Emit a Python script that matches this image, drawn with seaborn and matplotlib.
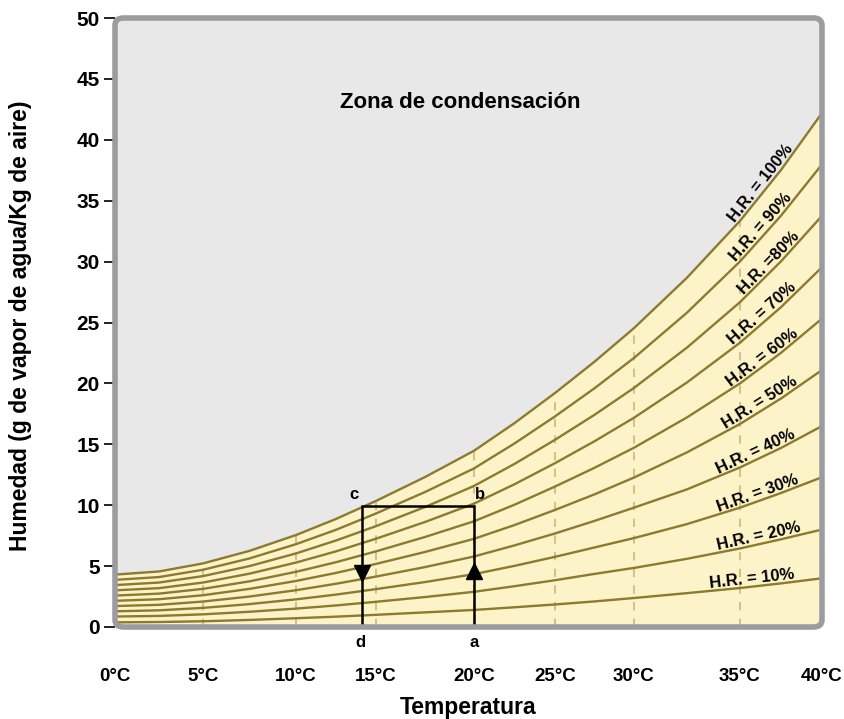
import numpy as np
import pandas as pd
import matplotlib
matplotlib.use("Agg")
import matplotlib.pyplot as plt
import seaborn as sns
from matplotlib.patches import FancyBboxPatch

# axis ticks (°C) and where each tick sits on the drawn axis (px)
tick_t = [0, 5, 10, 15, 20, 25, 30, 35, 40]
tick_px = [115, 203, 296, 376, 474, 555, 634, 740, 822]
temp_labels = ["0°C", "5°C", "10°C", "15°C", "20°C", "25°C", "30°C", "35°C", "40°C"]

# temperatures at which the curves were read
temps = [0, 2.5, 5, 7.5, 10, 12.5, 15, 17.5, 20, 22.5, 25, 27.5, 30, 32.5, 35, 37.5, 40]

# humidity (g vapour / kg air) per relative-humidity curve
hr_100 = [4.30, 4.56, 5.22, 6.25, 7.55, 8.87, 10.35, 12.31, 14.47, 16.74, 19.21, 21.78, 24.54, 28.68, 33.34, 37.52, 42.20]
hr_90 = [3.87, 4.10, 4.70, 5.63, 6.80, 7.98, 9.32, 11.08, 13.02, 15.07, 17.29, 19.60, 22.09, 25.81, 30.01, 33.77, 37.98]
hr_80 = [3.44, 3.65, 4.18, 5.00, 6.04, 7.10, 8.28, 9.85, 11.58, 13.39, 15.37, 17.42, 19.63, 22.94, 26.67, 30.02, 33.76]
hr_70 = [3.01, 3.19, 3.65, 4.38, 5.29, 6.21, 7.25, 8.62, 10.13, 11.72, 13.45, 15.25, 17.18, 20.08, 23.34, 26.26, 29.54]
hr_60 = [2.58, 2.74, 3.13, 3.75, 4.53, 5.32, 6.21, 7.39, 8.68, 10.04, 11.53, 13.07, 14.72, 17.21, 20.00, 22.51, 25.32]
hr_50 = [2.15, 2.28, 2.61, 3.13, 3.78, 4.44, 5.18, 6.16, 7.24, 8.37, 9.61, 10.89, 12.27, 14.34, 16.67, 18.76, 21.10]
hr_40 = [1.72, 1.82, 2.09, 2.50, 3.02, 3.55, 4.14, 4.92, 5.79, 6.70, 7.68, 8.71, 9.80, 11.30, 13.10, 14.70, 16.50]
hr_30 = [1.29, 1.37, 1.57, 1.88, 2.27, 2.66, 3.11, 3.69, 4.34, 5.02, 5.76, 6.53, 7.30, 8.45, 9.80, 11.00, 12.30]
hr_20 = [0.86, 0.91, 1.04, 1.25, 1.51, 1.77, 2.07, 2.46, 2.89, 3.35, 3.84, 4.36, 4.85, 5.60, 6.45, 7.20, 8.00]
hr_10 = [0.38, 0.41, 0.47, 0.58, 0.72, 0.85, 1.00, 1.20, 1.40, 1.62, 1.85, 2.10, 2.38, 2.78, 3.20, 3.58, 4.00]
hr_levels = [100, 90, 80, 70, 60, 50, 40, 30, 20, 10]
hr_curves = [hr_100, hr_90, hr_80, hr_70, hr_60, hr_50, hr_40, hr_30, hr_20, hr_10]
hr_texts = ["H.R. = 100%", "H.R. = 90%", "H.R. =80%", "H.R. = 70%", "H.R. = 60%",
            "H.R. = 50%", "H.R. = 40%", "H.R. = 30%", "H.R. = 20%", "H.R. = 10%"]
label_px = [767, 766, 774, 767, 767, 764, 759, 760, 760, 753]

# cooling path a -> b -> c -> d
path_t = [20, 20, 14.1, 14.1]
path_h = [0, 9.9, 9.9, 0]

dashed_t = [5, 10, 15, 20, 25, 30, 35]

YELLOW = "#fdf3c9"
GREY_BG = "#e8e8e8"
CURVE = "#8c7a2e"
DASH = "#d2c38c"
FRAME = "#9c9ca0"

sns.set_style("white")
plt.rcParams["font.family"] = ["Liberation Sans", "DejaVu Sans"]
plt.rcParams.update({
    "font.weight": "bold",
    "text.color": "black",
    "axes.labelcolor": "black",
    "xtick.color": "black",
    "ytick.color": "black",
})

fig = plt.figure(figsize=(8.45, 7.19), dpi=100)
ax = fig.add_axes([115 / 845, 1 - 627 / 719, 707 / 845, 609 / 719])


def fwd(t):
    return np.interp(t, tick_t, tick_px)


def inv(p):
    return np.interp(p, tick_px, tick_t)


df = pd.DataFrame({
    "temp": temps * len(hr_levels),
    "hum": np.concatenate(hr_curves),
    "hr": np.repeat(hr_levels, len(temps)),
})

ax.set_facecolor(GREY_BG)
ax.fill_between(temps, 0, hr_100, color=YELLOW, lw=0, zorder=1)
sns.lineplot(data=df, x="temp", y="hum", units="hr", estimator=None,
             color=CURVE, lw=1.7, ax=ax, zorder=3, legend=False)
ax.set_xscale("function", functions=(fwd, inv))
ax.set_xlim(0, 40)
ax.set_ylim(0, 50)

sat_at = [hr_100[temps.index(t)] for t in dashed_t]
ax.vlines(dashed_t, 0, sat_at, colors=DASH, linestyles=(0, (4, 4)), lw=1.5, zorder=2)

# cooling path with arrows
ax.plot(path_t, path_h, color="black", lw=1.8, zorder=4, solid_joinstyle="miter")
ax.plot([path_t[0]], [4.6], marker="^", color="black", ms=11, zorder=5)
ax.plot([path_t[3]], [4.4], marker="v", color="black", ms=11, zorder=5)
lab = dict(ha="center", va="center", fontsize=12, fontweight="bold", clip_on=False)
ax.text(20.4, 10.9, "b", **lab)
ax.text(13.6, 10.9, "c", **lab)
ax.text(14.0, -1.3, "d", **lab)
ax.text(20.0, -1.3, "a", **lab)

ax.text(19.3, 43.1, "Zona de condensación", ha="center", va="center",
        fontsize=16, fontweight="bold")

# curve labels, rotated along the local slope
curve_px = fwd(temps)
for txt, curve, px in zip(hr_texts, hr_curves, label_px):
    y = np.interp(px, curve_px, curve)
    p0 = ax.transData.transform((inv(px - 20), np.interp(px - 20, curve_px, curve)))
    p1 = ax.transData.transform((inv(px + 20), np.interp(px + 20, curve_px, curve)))
    ang = np.degrees(np.arctan2(p1[1] - p0[1], p1[0] - p0[0]))
    ax.text(inv(px), y, txt, rotation=ang, rotation_mode="anchor",
            ha="center", va="bottom", fontsize=12, fontweight="bold", zorder=6)

ax.set_yticks(range(0, 51, 5))
ax.set_yticklabels([str(v) for v in range(0, 51, 5)], fontsize=15, fontweight="bold")
ax.set_xticks(tick_t)
ax.set_xticklabels(temp_labels, fontsize=13.5, fontweight="bold")
ax.tick_params(axis="y", which="major", left=True, length=8, width=1.4, color="#222222", pad=3)
ax.tick_params(axis="x", which="major", bottom=False, pad=26)
ax.tick_params(axis="x", which="minor", bottom=False)
ax.set_xlabel("Temperatura", fontsize=16.5, fontweight="bold")
ax.xaxis.set_label_coords(0.5, -0.113)
ax.set_ylabel("Humedad (g de vapor de agua/Kg de aire)", fontsize=16.5, fontweight="bold")
ax.yaxis.set_label_coords(-0.117, 0.495)

for s in ax.spines.values():
    s.set_visible(False)
frame = FancyBboxPatch((0, 0), 1, 1, boxstyle="round,pad=0,rounding_size=0.012",
                       transform=ax.transAxes, fill=False, ec=FRAME, lw=4,
                       clip_on=False, zorder=10)
ax.add_patch(frame)

fig.savefig("out.png", dpi=100)
